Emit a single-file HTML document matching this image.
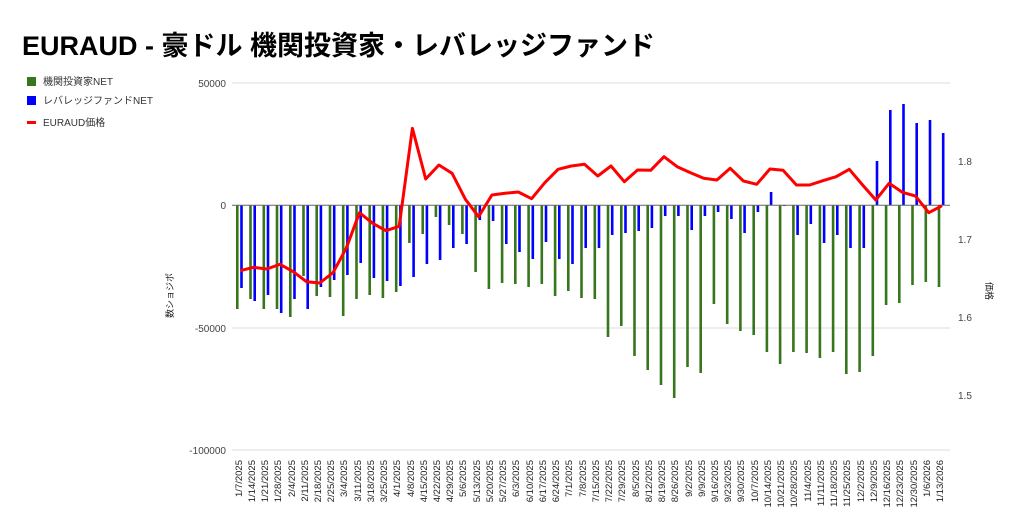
<!DOCTYPE html>
<html><head><meta charset="utf-8"><style>
body{margin:0;background:#fff;}
svg{display:block;font-family:"Liberation Sans","Noto Sans CJK JP",sans-serif;}
</style></head><body>
<svg width="1024" height="532" xmlns="http://www.w3.org/2000/svg">
<rect width="1024" height="532" fill="#fff"/>
<text x="22" y="55" font-size="27" font-weight="bold" fill="#000">EURAUD - 豪ドル 機関投資家・レバレッジファンド</text>
<rect x="27" y="77" width="9" height="9" fill="#38761d"/>
<text x="43" y="85" font-size="10" fill="#333">機関投資家NET</text>
<rect x="27" y="96" width="9" height="9" fill="#0000ff"/>
<text x="43" y="104" font-size="10" fill="#333">レバレッジファンドNET</text>
<rect x="27" y="121" width="9" height="3" fill="#ff0000"/>
<text x="43" y="126" font-size="10" fill="#333">EURAUD価格</text>
<g stroke="#ddd" stroke-width="1">
<line x1="232" y1="83" x2="950" y2="83"/>
<line x1="232" y1="328" x2="950" y2="328"/>
<line x1="232" y1="450" x2="950" y2="450"/>
</g>
<g font-size="10" fill="#444" text-anchor="end">
<text x="226" y="87">50000</text>
<text x="226" y="209">0</text>
<text x="226" y="332">-50000</text>
<text x="226" y="454">-100000</text>
</g>
<g font-size="10" fill="#444">
<text x="958" y="165">1.8</text>
<text x="958" y="243">1.7</text>
<text x="958" y="321">1.6</text>
<text x="958" y="399">1.5</text>
</g>
<text transform="translate(173,318) rotate(-90)" font-size="9" fill="#222">数ショジポ</text>
<text transform="translate(986,282) rotate(90)" font-size="9" fill="#222">価格</text>
<path fill="none" stroke="#38761d" stroke-width="2.6" d="M237.3 205V309M250.5 205V299M263.8 205V309M277 205V309M290.3 205V317M303.5 205V276M316.7 205V296M330 205V297M343.2 205V316M356.5 205V299M369.7 205V295M382.9 205V298M396.2 205V292M409.4 205V243M422.7 205V234M435.9 205V217M449.1 205V225M462.4 205V234M475.6 205V272M488.9 205V289M502.1 205V283M515.3 205V284M528.6 205V287M541.8 205V284M555.1 205V296M568.3 205V291M581.5 205V298M594.8 205V299M608 205V337M621.3 205V326M634.5 205V356M647.7 205V370M661 205V385M674.2 205V398M687.5 205V367M700.7 205V373M713.9 205V304M727.2 205V324M740.4 205V331M753.7 205V335M766.9 205V352M780.1 205V364M793.4 205V352M806.6 205V353M819.9 205V358M833.1 205V352M846.3 205V374M859.6 205V372M872.8 205V356M886.1 205V305M899.3 205V303M912.5 205V285M925.8 205V282M939 205V287"/>
<path fill="none" stroke="#0000ff" stroke-width="2.6" d="M241.5 205V288M254.7 205V301M268 205V295M281.2 205V313M294.5 205V299M307.7 205V309M320.9 205V287M334.2 205V280M347.4 205V275M360.7 205V263M373.9 205V278M387.1 205V281M400.4 205V286M413.6 205V277M426.9 205V264M440.1 205V260M453.3 205V248M466.6 205V244M479.8 205V220M493.1 205V221M506.3 205V244M519.5 205V252M532.8 205V259M546 205V242M559.3 205V259M572.5 205V264M585.7 205V248M599 205V248M612.2 205V235M625.5 205V233M638.7 205V231M651.9 205V228M665.2 205V216M678.4 205V216M691.7 205V230M704.9 205V216M718.1 205V212M731.4 205V219M744.6 205V233M757.9 205V212M771.1 205V192M784.3 205V206M797.6 205V235M810.8 205V224M824.1 205V243M837.3 205V235M850.5 205V248M863.8 205V248M877 205V161M890.3 205V110M903.5 205V104M916.7 205V123M930 205V120M943.2 205V133"/>
<line x1="232" y1="205.3" x2="950" y2="205.3" stroke="#666" stroke-width="1"/>
<polyline fill="none" stroke="#ff0000" stroke-width="3" stroke-linejoin="round" points="240.3,270.7 253.5,267.3 266.8,269 280,264.3 293.3,271.7 306.5,281.7 319.7,283 333,272.7 346.2,248.3 359.5,212.7 372.7,223.3 385.9,230.7 399.2,226.3 412.4,128.3 425.7,179 438.9,165 452.1,173.3 465.4,199.3 478.6,216.7 491.9,195 505.1,193.3 518.3,192 531.6,198.7 544.8,182.7 558.1,169.3 571.3,166 584.5,164.3 597.8,176 611,166 624.3,181.7 637.5,170 650.7,170.3 664,156.7 677.2,166.7 690.5,172.7 703.7,178.3 716.9,180 730.2,168.3 743.4,181 756.7,184.3 769.9,169 783.1,170.3 796.4,185 809.6,185 822.9,180.7 836.1,176.7 849.3,169.3 862.6,185 875.8,200 889.1,183.3 902.3,192.3 915.5,196 928.8,212.7 942,205.7"/>
<g font-size="9.5" fill="#222" text-anchor="end">
<text transform="translate(242,460) rotate(-90)">1/7/2025</text>
<text transform="translate(255,460) rotate(-90)">1/14/2025</text>
<text transform="translate(268,460) rotate(-90)">1/21/2025</text>
<text transform="translate(281,460) rotate(-90)">1/28/2025</text>
<text transform="translate(295,460) rotate(-90)">2/4/2025</text>
<text transform="translate(308,460) rotate(-90)">2/11/2025</text>
<text transform="translate(321,460) rotate(-90)">2/18/2025</text>
<text transform="translate(334,460) rotate(-90)">2/25/2025</text>
<text transform="translate(347,460) rotate(-90)">3/4/2025</text>
<text transform="translate(361,460) rotate(-90)">3/11/2025</text>
<text transform="translate(374,460) rotate(-90)">3/18/2025</text>
<text transform="translate(387,460) rotate(-90)">3/25/2025</text>
<text transform="translate(400,460) rotate(-90)">4/1/2025</text>
<text transform="translate(414,460) rotate(-90)">4/8/2025</text>
<text transform="translate(427,460) rotate(-90)">4/15/2025</text>
<text transform="translate(440,460) rotate(-90)">4/22/2025</text>
<text transform="translate(453,460) rotate(-90)">4/29/2025</text>
<text transform="translate(466,460) rotate(-90)">5/6/2025</text>
<text transform="translate(480,460) rotate(-90)">5/13/2025</text>
<text transform="translate(493,460) rotate(-90)">5/20/2025</text>
<text transform="translate(506,460) rotate(-90)">5/27/2025</text>
<text transform="translate(519,460) rotate(-90)">6/3/2025</text>
<text transform="translate(533,460) rotate(-90)">6/10/2025</text>
<text transform="translate(546,460) rotate(-90)">6/17/2025</text>
<text transform="translate(559,460) rotate(-90)">6/24/2025</text>
<text transform="translate(572,460) rotate(-90)">7/1/2025</text>
<text transform="translate(586,460) rotate(-90)">7/8/2025</text>
<text transform="translate(599,460) rotate(-90)">7/15/2025</text>
<text transform="translate(612,460) rotate(-90)">7/22/2025</text>
<text transform="translate(625,460) rotate(-90)">7/29/2025</text>
<text transform="translate(639,460) rotate(-90)">8/5/2025</text>
<text transform="translate(652,460) rotate(-90)">8/12/2025</text>
<text transform="translate(665,460) rotate(-90)">8/19/2025</text>
<text transform="translate(678,460) rotate(-90)">8/26/2025</text>
<text transform="translate(692,460) rotate(-90)">9/2/2025</text>
<text transform="translate(705,460) rotate(-90)">9/9/2025</text>
<text transform="translate(718,460) rotate(-90)">9/16/2025</text>
<text transform="translate(731,460) rotate(-90)">9/23/2025</text>
<text transform="translate(744,460) rotate(-90)">9/30/2025</text>
<text transform="translate(758,460) rotate(-90)">10/7/2025</text>
<text transform="translate(771,460) rotate(-90)">10/14/2025</text>
<text transform="translate(784,460) rotate(-90)">10/21/2025</text>
<text transform="translate(797,460) rotate(-90)">10/28/2025</text>
<text transform="translate(811,460) rotate(-90)">11/4/2025</text>
<text transform="translate(824,460) rotate(-90)">11/11/2025</text>
<text transform="translate(837,460) rotate(-90)">11/18/2025</text>
<text transform="translate(850,460) rotate(-90)">11/25/2025</text>
<text transform="translate(864,460) rotate(-90)">12/2/2025</text>
<text transform="translate(877,460) rotate(-90)">12/9/2025</text>
<text transform="translate(890,460) rotate(-90)">12/16/2025</text>
<text transform="translate(903,460) rotate(-90)">12/23/2025</text>
<text transform="translate(917,460) rotate(-90)">12/30/2025</text>
<text transform="translate(930,460) rotate(-90)">1/6/2026</text>
<text transform="translate(943,460) rotate(-90)">1/13/2026</text>
</g>
</svg>
</body></html>
